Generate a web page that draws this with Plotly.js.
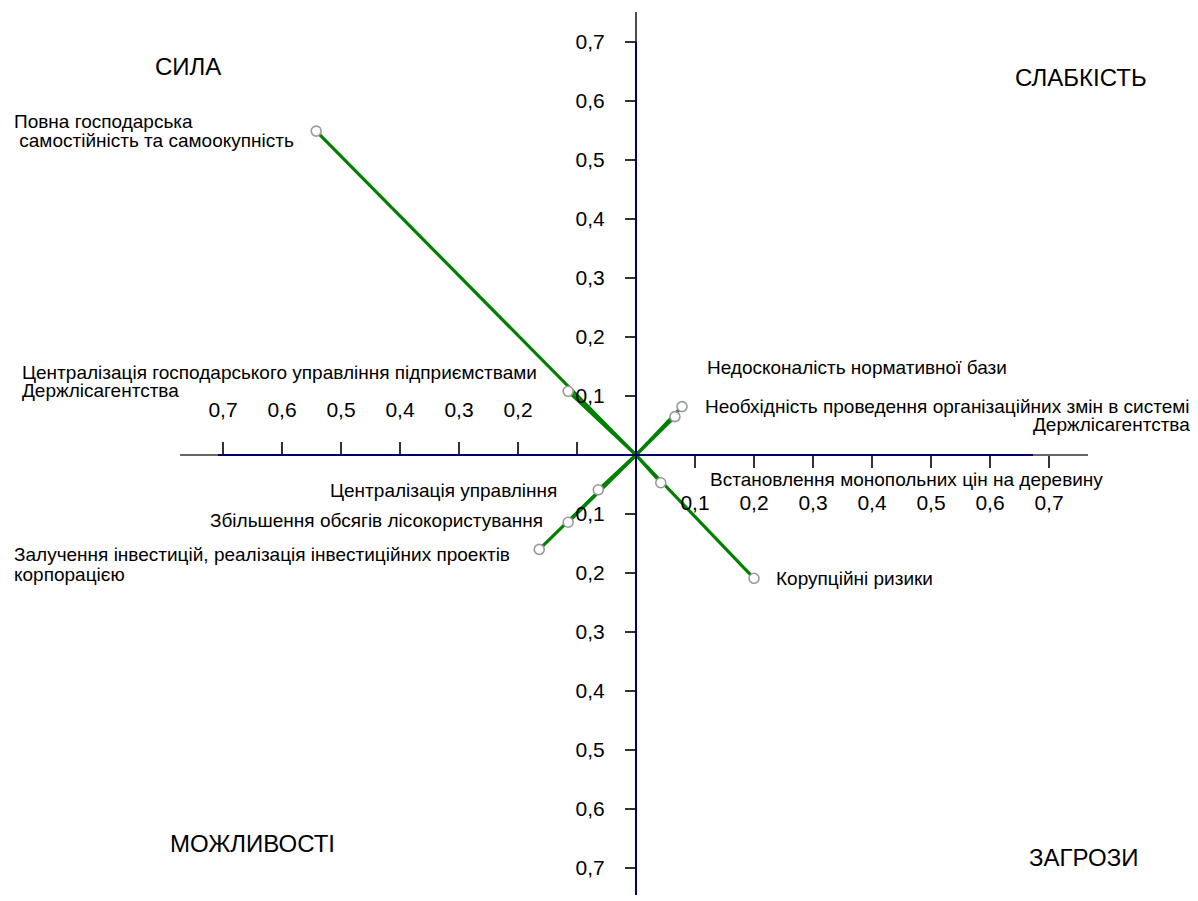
<!DOCTYPE html>
<html>
<head>
<meta charset="utf-8">
<script src="https://cdn.plot.ly/plotly-3.0.1.min.js"></script>
<style>html,body{margin:0;padding:0;background:#fff;}#chart{width:1198px;height:901px;}</style>
</head>
<body>
<div id="chart"></div>
<script>
// ---- data ----
const categories = [
  "Повна господарська самостійність та самоокупність",
  "Централізація господарського управління підприємствами Держлісагентства",
  "Недосконалість нормативної бази",
  "Необхідність проведення організаційних змін в системі Держлісагентства",
  "Встановлення монопольних цін на деревину",
  "Корупційні ризики",
  "Централізація управління",
  "Збільшення обсягів лісокористування",
  "Залучення інвестицій, реалізація інвестиційних проектів корпорацією"
];
const xValues = [-0.542, -0.115, 0.078, 0.066, 0.042, 0.200, -0.064, -0.115, -0.164];
const yValues = [0.549, 0.108, 0.082, 0.065, -0.047, -0.209, -0.059, -0.114, -0.160];
const quadrants = ["СИЛА", "СЛАБКІСТЬ", "МОЖЛИВОСТІ", "ЗАГРОЗИ"];
const tickValuesNeg = [-0.7, -0.6, -0.5, -0.4, -0.3, -0.2, -0.1];
const tickValuesPos = [0.1, 0.2, 0.3, 0.4, 0.5, 0.6, 0.7];
const tickTextNeg = ["0,7", "0,6", "0,5", "0,4", "0,3", "0,2", ""];
const tickTextPos = ["0,1", "0,2", "0,3", "0,4", "0,5", "0,6", "0,7"];
const tickTextY = ["0,7", "0,6", "0,5", "0,4", "0,3", "0,2", "0,1", "0,1", "0,2", "0,3", "0,4", "0,5", "0,6", "0,7"];

// ---- geometry helpers (layout only) ----
const W = 1198, H = 901;
const M = {l: 0, r: 0, t: 0, b: 0};
const CX = 636, CY = 455, S = 590;
const X = px => (px - CX) / S;
const Y = py => (CY - py) / S;
const xr = [X(M.l), X(W - M.r)];
const yr = [Y(H - M.b), Y(M.t)];
const posX = (0 - yr[0]) / (yr[1] - yr[0]);
const posY = (0 - xr[0]) / (xr[1] - xr[0]);

const FONT = "Liberation Sans, Arial, sans-serif";

// label line layout: [text line, anchor, px x, px y]
const labelLines = [
  ["Повна господарська", "left", 12, 121],
  ["\u00a0самостійність та самоокупність", "left", 12, 140],
  ["Централізація господарського управління підприємствами", "left", 20, 372],
  ["Держлісагентства", "left", 20, 390],
  ["Недосконалість нормативної бази", "left", 705, 367],
  ["Необхідність проведення організаційних змін в системі", "right", 1192, 406],
  ["Держлісагентства", "right", 1192, 424],
  ["Встановлення монопольних цін на деревину", "left", 708, 479],
  ["Корупційні ризики", "left", 774, 578],
  ["Централізація управління", "right", 559, 490],
  ["Збільшення обсягів лісокористування", "right", 545, 520],
  ["Залучення інвестицій, реалізація інвестиційних проектів", "left", 12, 554],
  ["корпорацією", "left", 12, 574]
];
const quadPos = [[188, 66], [1081, 77], [252, 843], [1083, 857]];

// ---- traces ----
const traces = [];
categories.forEach((c, i) => {
  traces.push({
    x: [0, xValues[i]], y: [0, yValues[i]],
    mode: "lines", type: "scatter",
    line: {color: "#008000", width: 3.2},
    hoverinfo: "skip", showlegend: false
  });
});
traces.push({
  x: xValues, y: yValues, text: categories,
  mode: "markers", type: "scatter",
  marker: {size: 10, color: "#ffffff", line: {color: "#999999", width: 1.6}},
  hoverinfo: "text", showlegend: false
});
// invisible trace to activate the second x axis
traces.push({x: [0], y: [0], xaxis: "x2", mode: "markers", marker: {opacity: 0}, hoverinfo: "skip", showlegend: false});

// ---- annotations ----
const annotations = [];
labelLines.forEach(l => {
  annotations.push({
    text: l[0], xref: "x", yref: "y", x: X(l[2]), y: Y(l[3]),
    xanchor: l[1], yanchor: "middle", showarrow: false, align: l[1],
    font: {family: FONT, size: 19, color: "#000"}
  });
});
quadrants.forEach((q, i) => {
  annotations.push({
    text: q, xref: "x", yref: "y", x: X(quadPos[i][0]), y: Y(quadPos[i][1]),
    xanchor: "center", yanchor: "middle", showarrow: false,
    font: {family: FONT, size: 24, color: "#000"}
  });
});

// ---- axis lines ----
const shapes = [
  {type: "line", xref: "x", yref: "y", x0: X(180), x1: X(1088), y0: 0, y1: 0, line: {color: "#333333", width: 1.5}},
  {type: "line", xref: "x", yref: "y", x0: X(218), x1: X(1033), y0: 0, y1: 0, line: {color: "#000066", width: 2}},
  {type: "line", xref: "x", yref: "y", x0: 0, x1: 0, y0: Y(12), y1: Y(895), line: {color: "#111111", width: 1.5}},
  {type: "line", xref: "x", yref: "y", x0: 0, x1: 0, y0: Y(42), y1: Y(895), line: {color: "#000066", width: 2}}
];

const tickFont = {family: FONT, size: 21, color: "#000"};
const layout = {
  width: W, height: H,
  margin: M,
  paper_bgcolor: "#ffffff", plot_bgcolor: "#ffffff",
  showlegend: false,
  xaxis: {
    range: xr, side: "top", anchor: "free", position: posX,
    tickvals: tickValuesNeg, ticktext: tickTextNeg,
    ticks: "outside", ticklen: 13, tickcolor: "#333", tickwidth: 1.2,
    showgrid: false, zeroline: false, showline: false,
    tickfont: tickFont, ticklabelstandoff: 17, fixedrange: true
  },
  xaxis2: {
    range: xr, overlaying: "x", side: "bottom", anchor: "free", position: posX,
    tickvals: tickValuesPos, ticktext: tickTextPos,
    ticks: "outside", ticklen: 12, tickcolor: "#333", tickwidth: 1.2,
    showgrid: false, zeroline: false, showline: false,
    tickfont: tickFont, ticklabelstandoff: 17, fixedrange: true
  },
  yaxis: {
    range: yr, side: "left", anchor: "free", position: posY,
    tickvals: tickValuesNeg.concat(tickValuesPos), ticktext: tickTextY,
    ticks: "outside", ticklen: 11, tickcolor: "#333", tickwidth: 1.2,
    showgrid: false, zeroline: false, showline: false,
    tickfont: tickFont, ticklabelstandoff: 16, fixedrange: true
  },
  shapes: shapes,
  annotations: annotations
};

Plotly.newPlot("chart", traces, layout, {displayModeBar: false, staticPlot: true});
</script>
</body>
</html>
